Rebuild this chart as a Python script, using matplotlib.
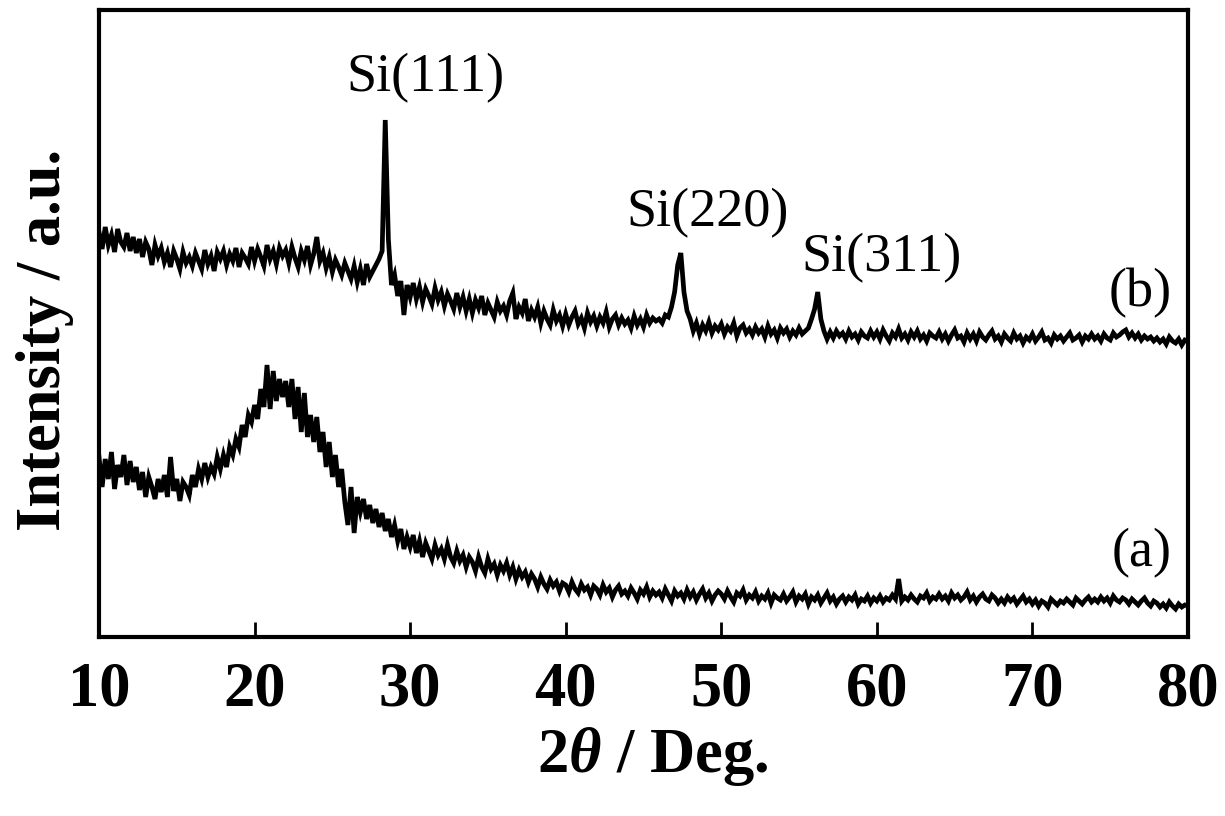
"""XRD patterns (a) and (b) with Si reflections marked on (b)."""
import matplotlib
matplotlib.use("Agg")
import matplotlib.pyplot as plt
import numpy as np

# scan grid, 0.2 deg step
TWO_THETA = np.round(np.arange(10.0, 80.001, 0.2), 1)

# pattern (b): Si crystalline peaks on a broad background (a.u.)
INT_B = [
    405, 388, 410, 392, 402, 385, 408, 395, 390, 404,   # 10-12
    386, 400, 384, 398, 380, 395, 388, 372, 392, 381,   # 12-14
    389, 375, 384, 370, 386, 378, 368, 385, 374, 380,   # 14-16
    371, 384, 376, 368, 387, 373, 381, 366, 385, 378,   # 16-18
    386, 372, 383, 376, 389, 370, 384, 379, 373, 390,   # 18-20
    376, 388, 380, 371, 392, 378, 386, 373, 389, 381,   # 20-22
    387, 374, 390, 379, 370, 386, 377, 391, 372, 383,   # 22-24
    400, 376, 384, 369, 380, 365, 377, 370, 362, 374,   # 24-26
    366, 358, 371, 355, 368, 352, 373, 360, 366, 372,   # 26-28
    378, 386, 517, 398, 352, 362, 341, 356, 322, 352,   # 28-30
    340, 354, 338, 350, 335, 348, 341, 333, 349, 337,   # 30-32
    345, 331, 343, 336, 328, 344, 330, 340, 326, 338,   # 32-34
    324, 337, 329, 341, 322, 334, 327, 320, 335, 326,   # 34-36
    331, 322, 336, 344, 318, 330, 324, 338, 316, 327,   # 36-38
    320, 330, 314, 326, 318, 312, 327, 316, 322, 311,   # 38-40
    323, 312, 320, 326, 313, 319, 309, 324, 315, 321,   # 40-42
    311, 320, 314, 325, 310, 318, 322, 312, 319, 313,   # 42-44
    317, 309, 321, 312, 318, 310, 322, 314, 319, 316,   # 44-46
    318, 314, 322, 320, 330, 345, 372, 384, 345, 326,   # 46-48
    318, 306, 314, 303, 312, 306, 315, 304, 311, 307,   # 48-50
    313, 303, 310, 306, 314, 301, 309, 312, 304, 308,   # 50-52
    302, 310, 304, 308, 300, 311, 303, 307, 299, 309,   # 52-54
    304, 308, 300, 306, 302, 309, 303, 306, 309, 318,   # 54-56
    328, 345, 318, 306, 298, 305, 299, 306, 301, 304,   # 56-58
    298, 306, 300, 303, 297, 305, 301, 299, 306, 300,   # 58-60
    305, 298, 307, 301, 296, 304, 300, 308, 299, 303,   # 60-62
    297, 305, 300, 306, 298, 302, 296, 304, 301, 299,   # 62-64
    305, 298, 303, 296, 302, 307, 299, 301, 295, 304,   # 64-66
    298, 303, 296, 305, 300, 297, 302, 306, 298, 301,   # 66-68
    295, 303, 299, 296, 304, 298, 301, 294, 300, 297,   # 68-70
    303, 296, 300, 305, 297, 299, 294, 302, 298, 301,   # 70-72
    296, 300, 304, 297, 299, 302, 295, 301, 298, 303,   # 72-74
    298, 301, 296, 303, 299, 297, 304, 300, 302, 305,   # 74-76
    307, 300, 304, 299, 303, 297, 301, 298, 300, 296,   # 76-78
    299, 295, 298, 293, 300, 296, 294, 298, 292, 297,   # 78-80
    296,
]

# pattern (a): amorphous hump around 21-22 deg
INT_A = [
    180, 150, 178, 158, 185, 148, 172, 160, 182, 152,   # 10-12
    176, 155, 170, 147, 165, 140, 160, 150, 138, 158,   # 12-14
    145, 162, 140, 180, 146, 158, 136, 155, 150, 142,   # 14-16
    162, 150, 168, 158, 174, 160, 170, 163, 180, 168,   # 16-18
    182, 170, 190, 182, 198, 190, 212, 200, 222, 215,   # 18-20
    232, 218, 248, 230, 272, 228, 266, 236, 258, 240,   # 20-22
    256, 230, 258, 218, 250, 205, 244, 200, 222, 195,   # 22-24
    220, 185, 205, 170, 195, 160, 182, 150, 168, 135,   # 24-26
    112, 150, 104, 140, 125, 138, 118, 132, 114, 128,   # 26-28
    110, 124, 106, 118, 100, 112, 96, 108, 88, 100,     # 28-30
    90, 102, 84, 96, 80, 94, 86, 78, 92, 82,            # 30-32
    88, 78, 92, 80, 74, 86, 76, 82, 70, 80,             # 32-34
    75, 66, 80, 70, 64, 78, 68, 73, 62, 72,             # 34-36
    66, 74, 62, 70, 58, 67, 60, 65, 55, 63,             # 36-38
    58, 50, 60, 53, 48, 57, 51, 55, 46, 54,             # 38-40
    52, 45, 55, 48, 44, 53, 47, 50, 42, 51,             # 40-42
    48, 42, 52, 45, 49, 40, 47, 51, 43, 46,             # 42-44
    41, 49, 44, 38, 47, 43, 50, 40, 46, 42,             # 44-46
    45, 39, 48, 42, 36, 46, 41, 44, 38, 47,             # 46-48
    40, 45, 37, 43, 48, 39, 44, 36, 42, 46,             # 48-50
    43, 38, 46, 40, 35, 44, 41, 47, 37, 42,             # 50-52
    39, 45, 36, 41, 38, 44, 34, 42, 39, 37,             # 52-54
    43, 36, 40, 45, 35, 41, 38, 43, 33, 40,             # 54-56
    37, 42, 34, 39, 44, 36, 40, 33, 38, 41,             # 56-58
    35, 40, 37, 42, 33, 38, 36, 41, 34, 39,             # 58-60
    36, 41, 35, 39, 37, 42, 38, 58, 36, 40,             # 60-62
    37, 42, 38, 35, 41, 39, 44, 36, 40, 38,             # 62-64
    43, 38, 41, 36, 44, 39, 42, 37, 40, 45,             # 64-66
    37, 41, 35, 40, 43, 38, 36, 42, 39, 34,             # 66-68
    38, 34, 40, 36, 39, 33, 37, 41, 35, 38,             # 68-70
    33, 37, 31, 36, 34, 30, 38, 35, 32, 36,             # 70-72
    34, 38, 35, 32, 39, 36, 33, 37, 40, 35,             # 72-74
    38, 35, 40, 36, 39, 34, 41, 37, 35, 39,             # 74-76
    37, 33, 38, 35, 32, 36, 39, 34, 31, 36,             # 76-78
    34, 30, 33, 29, 35, 31, 28, 33, 30, 32,             # 78-80
    31,
]

PEAK_LABELS = ["Si(111)", "Si(220)", "Si(311)"]
PEAK_LABEL_X = [31.0, 49.1, 60.3]
PEAK_LABEL_Y = [559, 424, 379]
CURVE_LABELS = ["(b)", "(a)"]
CURVE_LABEL_X = [76.9, 77.0]
CURVE_LABEL_Y = [344, 84]
XTICKS = [10, 20, 30, 40, 50, 60, 70, 80]

plt.rcParams["font.family"] = ["Liberation Serif", "DejaVu Serif"]
plt.rcParams["mathtext.fontset"] = "custom"
plt.rcParams["mathtext.rm"] = "Liberation Serif:bold"
plt.rcParams["mathtext.it"] = "Liberation Serif:italic:bold"

fig = plt.figure(figsize=(12.25, 8.16), dpi=100)
ax = fig.add_axes([99 / 1225, 1 - 637 / 816, 1089 / 1225, 627 / 816])

ax.plot(TWO_THETA, INT_B, color="black", lw=3.4, solid_joinstyle="miter")
ax.plot(TWO_THETA, INT_A, color="black", lw=3.4, solid_joinstyle="miter")

for s, x, y in zip(PEAK_LABELS, PEAK_LABEL_X, PEAK_LABEL_Y):
    ax.text(x, y, s, fontsize=39, ha="center", va="center")
for s, x, y in zip(CURVE_LABELS, CURVE_LABEL_X, CURVE_LABEL_Y):
    ax.text(x, y, s, fontsize=39, ha="center", va="center")

ax.set_xlim(10, 80)
ax.set_ylim(0, 627)
ax.set_xticks(XTICKS)
ax.set_yticks([])
ax.tick_params(axis="x", direction="in", length=11, width=2, pad=18, labelsize=45)
for lab in ax.get_xticklabels():
    lab.set_fontweight("bold")
for sp in ax.spines.values():
    sp.set_linewidth(3)

fig.text(45 / 1225, 1 - 340 / 816, "Intensity / a.u.", rotation=90, fontsize=45,
         fontweight="bold", ha="center", va="center")
fig.text(653 / 1225, 1 - 757 / 816, r"2$\mathit{\theta}$ / Deg.", fontsize=45,
         fontweight="bold", ha="center", va="center")

fig.savefig("out.png", dpi=100)
